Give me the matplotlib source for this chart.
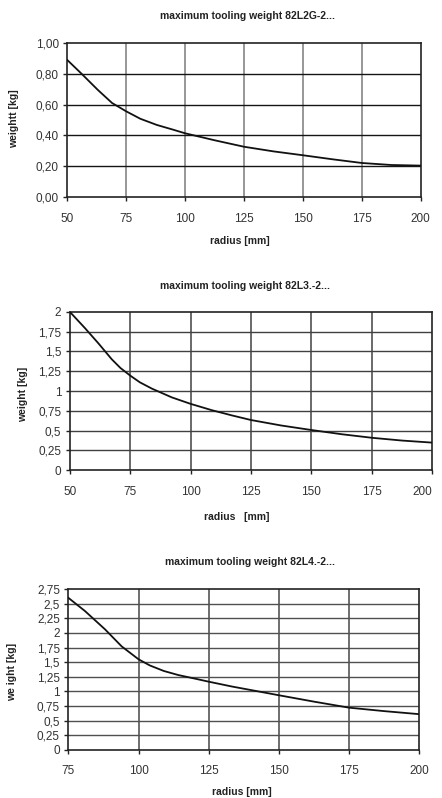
import matplotlib
matplotlib.use("Agg")
import matplotlib.pyplot as plt

plt.rcParams["font.family"] = ["Liberation Sans Narrow", "Liberation Sans", "DejaVu Sans"]

# chart 1: 82L2G-2...
radius_1 = [50, 56, 63, 69, 75, 81, 88, 95, 100, 112.5, 125, 137.5, 150, 162.5, 175, 187.5, 200]
weight_1 = [0.888, 0.80, 0.694, 0.61, 0.556, 0.508, 0.468, 0.437, 0.414, 0.369, 0.327, 0.297,
            0.272, 0.246, 0.222, 0.209, 0.205]
yticks_1 = [0.0, 0.2, 0.4, 0.6, 0.8, 1.0]
ylabels_1 = ["0,00", "0,20", "0,40", "0,60", "0,80", "1,00"]

# chart 2: 82L3.-2...
radius_2 = [50, 56.4, 61.9, 67.4, 71, 75, 79, 84, 92.2, 100, 108.8, 117, 125, 137.5, 150,
            162.5, 175, 187.5, 200]
weight_2 = [2.0, 1.79, 1.60, 1.40, 1.29, 1.195, 1.11, 1.03, 0.92, 0.838, 0.758, 0.693, 0.634,
            0.565, 0.508, 0.455, 0.41, 0.375, 0.349]
yticks_2 = [0, 0.25, 0.5, 0.75, 1, 1.25, 1.5, 1.75, 2]
ylabels_2 = ["0", "0,25", "0,5", "0,75", "1", "1,25", "1,5", "1,75", "2"]

# chart 3: 82L4.-2...
radius_3 = [75, 80.9, 88.1, 94, 100, 104, 109, 114.2, 120, 125, 133.2, 145, 150, 162.5, 175,
            187.5, 200]
weight_3 = [2.60, 2.375, 2.06, 1.77, 1.55, 1.445, 1.35, 1.28, 1.22, 1.167, 1.085, 0.98, 0.935,
            0.826, 0.723, 0.664, 0.612]
yticks_3 = [0, 0.25, 0.5, 0.75, 1, 1.25, 1.5, 1.75, 2, 2.25, 2.5, 2.75]
ylabels_3 = ["0", "0,25", "0,5", "0,75", "1", "1,25", "1,5", "1,75", "2", "2,25", "2,5", "2,75"]

W, H = 442, 798
fig = plt.figure(figsize=(W / 100, H / 100), dpi=100)


def px_axes(left, top, right, bottom):
    return fig.add_axes([left / W, 1 - bottom / H, (right - left) / W, (bottom - top) / H])


charts = [
    dict(box=(67.3, 42.7, 420.7, 197.3), x=radius_1, y=weight_1, xlim=(50, 200),
         xticks=[50, 75, 100, 125, 150, 175, 200], yticks=yticks_1, ylabels=ylabels_1,
         ymax=1.0, vcol="#858585", hcol="#151515",
         title="maximum tooling weight 82L2G-2...", title_xy=(248, 15.7),
         xlabel="radius [mm]", xlabel_xy=(240, 240.7),
         ylabel="weightt [kg]", ylabel_xy=(14, 119)),
    dict(box=(69.7, 311.7, 432.3, 470.3), x=radius_2, y=weight_2, xlim=(50, 200),
         xticks=[50, 75, 100, 125, 150, 175, 200], yticks=yticks_2, ylabels=ylabels_2,
         ymax=2.0, vcol="#505050", hcol="#404040",
         title="maximum tooling weight 82L3.-2...", title_xy=(245, 286),
         xlabel="radius   [mm]", xlabel_xy=(237, 516.7),
         ylabel="weight [kg]", ylabel_xy=(23, 394)),
    dict(box=(68.3, 589, 419.3, 750), x=radius_3, y=weight_3, xlim=(75, 200),
         xticks=[75, 100, 125, 150, 175, 200], yticks=yticks_3, ylabels=ylabels_3,
         ymax=2.75, vcol="#555555", hcol="#505050",
         title="maximum tooling weight 82L4.-2...", title_xy=(250, 561.7),
         xlabel="radius [mm]", xlabel_xy=(242, 791.7),
         ylabel="we ight [kg]", ylabel_xy=(12, 672)),
]

for i, c in enumerate(charts):
    ax = px_axes(*c["box"])
    ax.set_xlim(*c["xlim"])
    ax.set_ylim(0, c["ymax"])
    ax.set_xticks(c["xticks"])
    ax.set_xticklabels([str(t) for t in c["xticks"]])
    ax.set_yticks(c["yticks"])
    ax.set_yticklabels(c["ylabels"])
    for t in c["xticks"][1:-1]:
        ax.axvline(t, color=c["vcol"], lw=1.2, zorder=1)
    for t in c["yticks"][1:-1]:
        ax.axhline(t, color=c["hcol"], lw=1.0, zorder=1)
    ax.plot(c["x"], c["y"], color="#111111", lw=1.3, zorder=3,
            solid_joinstyle="round")
    for s in ax.spines.values():
        s.set_color("#222222")
        s.set_linewidth(1.2)
    ax.tick_params(axis="both", direction="out", length=3, width=1, colors="#222222",
                   labelsize=8.5, labelcolor="#333333", pad=3)
    ax.tick_params(axis="x", pad=8)
    if i == 1:
        ax.get_xticklabels()[-1].set_horizontalalignment("right")
        ax.get_xticklabels()[-1].set_x(200)

    fig.text(c["title_xy"][0] / W, 1 - c["title_xy"][1] / H, c["title"],
             ha="center", va="center", fontsize=7.5, fontweight="bold", color="#222222")
    fig.text(c["xlabel_xy"][0] / W, 1 - c["xlabel_xy"][1] / H, c["xlabel"],
             ha="center", va="center", fontsize=7.5, fontweight="bold", color="#222222")
    fig.text(c["ylabel_xy"][0] / W, 1 - c["ylabel_xy"][1] / H, c["ylabel"],
             ha="center", va="center", rotation=90, fontsize=7.5, fontweight="bold",
             color="#222222")

fig.savefig("out.png", dpi=100, facecolor="white")
